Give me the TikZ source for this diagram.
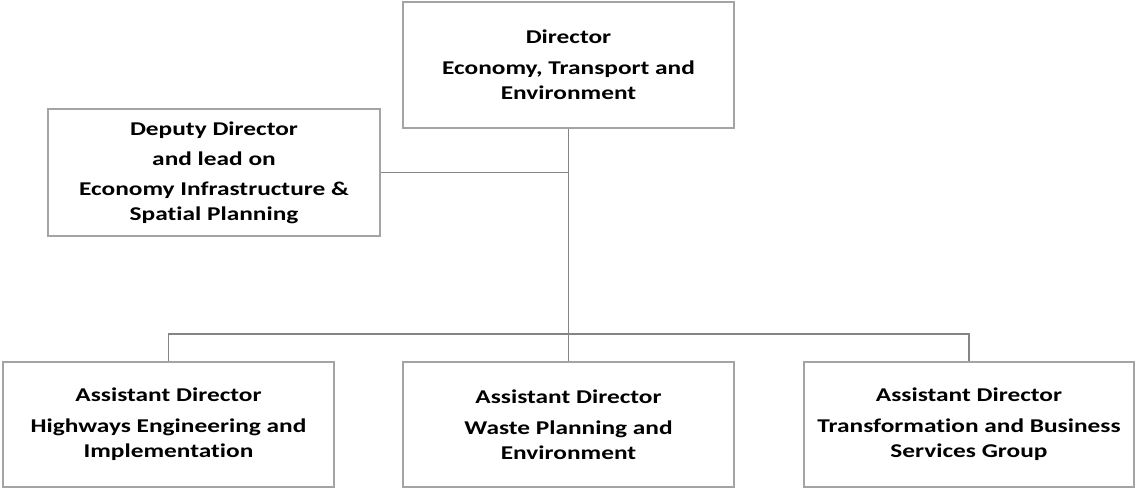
\documentclass[tikz,border=0pt]{standalone}
\usepackage{fontspec}
\setmainfont{Carlito}[FakeStretch=1.3,Ligatures=NoCommon]
\begin{document}
\begin{tikzpicture}[x=1pt,y=-1pt,
  orgbox/.style={draw=boxgray, line width=1.3pt, fill=white, align=center,
    font=\fontsize{19.5}{25}\selectfont\bfseries, inner sep=0pt},
  conn/.style={draw=linegray, line width=1.9pt}]
\definecolor{boxgray}{HTML}{A4A4A4}
\definecolor{linegray}{HTML}{858585}
\useasboundingbox (0,0) rectangle (1136,489);
\node[orgbox, minimum width=331pt, minimum height=126pt] (dir) at (568.5,65)
  {Director\\[6pt]Economy, Transport and\\Environment};
\node[orgbox, minimum width=332pt, minimum height=127pt] (dep) at (214,172.5)
  {Deputy Director\\[5pt]and lead on\\[5pt]Economy Infrastructure \&\\Spatial Planning};
\node[orgbox, minimum width=331pt, minimum height=125pt] (ad1) at (168.5,424.5)
  {Assistant Director\\[6pt]Highways Engineering and\\Implementation};
\node[orgbox, minimum width=331pt, minimum height=125pt] (ad2) at (568.5,424.5)
  {Assistant Director\\[6pt]Waste Planning and\\Environment};
\node[orgbox, minimum width=330pt, minimum height=125pt] (ad3) at (969,424.5)
  {Assistant Director\\[6pt]Transformation and Business\\Services Group};
\coordinate (j) at (568.5,334);
\draw[conn] (dir.south) -- (ad2.north);
\draw[conn] (dep.east) -- (dep.east -| dir.south);
\draw[conn] (ad1.north) |- (j) -| (ad3.north);
\end{tikzpicture}
\end{document}
